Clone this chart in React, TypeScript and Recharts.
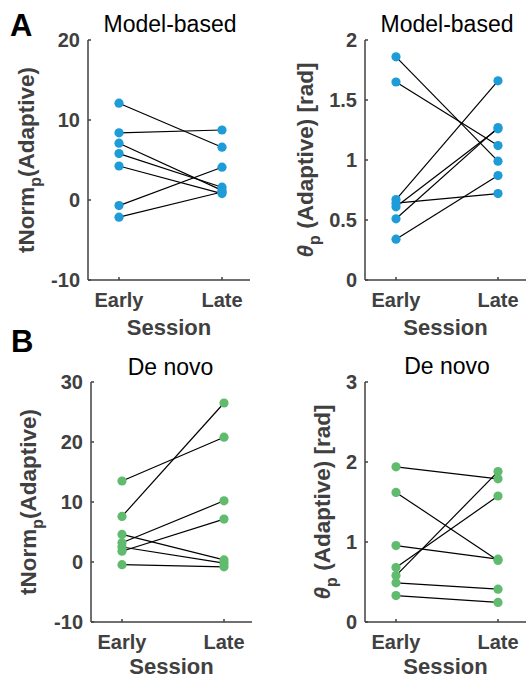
import React from 'react';
import { LineChart, Line, XAxis, YAxis } from 'recharts';

// ---------- data ----------
const sessions = ['Early', 'Late'];

// A: Model-based
const mbTnormEarly = [12.1, 8.4, 7.1, 5.8, 4.25, -0.7, -2.15];
const mbTnormLate = [6.6, 8.75, 1.2, 1.6, 0.8, 4.1, 1.0];
const mbThetaEarly = [1.86, 1.65, 0.67, 0.64, 0.61, 0.51, 0.34];
const mbThetaLate = [0.99, 1.12, 1.66, 0.72, 1.26, 1.27, 0.87];

// B: De novo
const dnTnormEarly = [13.5, 7.6, 4.6, 3.2, 2.5, 1.8, -0.45];
const dnTnormLate = [20.8, 26.5, 0.35, 10.2, -0.2, 7.15, -0.8];
const dnThetaEarly = [1.94, 1.62, 0.955, 0.68, 0.58, 0.49, 0.33];
const dnThetaLate = [1.79, 0.77, 0.785, 1.575, 1.88, 0.41, 0.245];

const tnormTicksA = [-10, 0, 10, 20];
const thetaTicksA = [0, 0.5, 1, 1.5, 2];
const tnormTicksB = [-10, 0, 10, 20, 30];
const thetaTicksB = [0, 1, 2, 3];

const panelTitles = ['Model-based', 'Model-based', 'De novo', 'De novo'];
const panelLetters = ['A', 'B'];
const xLabel = 'Session';

// ---------- styles ----------
const FONT = '"Liberation Sans", Arial, Helvetica, sans-serif';
const AXIS = '#404040';
const BLUE = '#1e9cd7';
const GREEN = '#60bb6e';

function buildRows(early: number[], late: number[]) {
  return sessions.map((s, i) => {
    const row: Record<string, any> = { session: s };
    (i === 0 ? early : late).forEach((v, k) => {
      row['s' + (k + 1)] = v;
    });
    return row;
  });
}

type PanelProps = {
  left: number;
  top: number;
  width: number;
  height: number;
  yAxisWidth: number;
  marginRight: number;
  xAxisHeight: number;
  xLabelOffset: number;
  early: number[];
  late: number[];
  ticks: number[];
  color: string;
  kind: 'tnorm' | 'theta';
  labelBaseline: number;
};

function YLabel(props: any) {
  const vb = props.viewBox || {};
  const { kind, baseline } = props;
  const x = (vb.x ?? 0) + baseline;
  const y = (vb.y ?? 0) + (vb.height ?? 0) / 2;
  return (
    <text
      x={x}
      y={y}
      transform={`rotate(-90 ${x} ${y})`}
      textAnchor="middle"
      fontFamily={FONT}
      fontWeight="bold"
      fontSize={22.5}
      fill={AXIS}
    >
      {kind === 'tnorm' ? (
        <>
          <tspan>tNorm</tspan>
          <tspan fontSize={16} dy={7}>p</tspan>
          <tspan dy={-7}>(Adaptive)</tspan>
        </>
      ) : (
        <>
          <tspan fontStyle="italic">θ</tspan>
          <tspan fontSize={16} dy={7}>p</tspan>
          <tspan dy={-7}>{' (Adaptive) [rad]'}</tspan>
        </>
      )}
    </text>
  );
}

function XLabel(props: any) {
  const vb = props.viewBox || {};
  const x = (vb.x ?? 0) + (vb.width ?? 0) / 2;
  const y = (vb.y ?? 0) + props.offsetY;
  return (
    <text x={x} y={y} textAnchor="middle" fontFamily={FONT} fontWeight="bold" fontSize={22} fill={AXIS}>
      {xLabel}
    </text>
  );
}

const tickStyle = { fill: AXIS, fontSize: 20, fontWeight: 'bold', fontFamily: FONT };

function Panel(p: PanelProps) {
  const data = buildRows(p.early, p.late);
  const keys = p.early.map((_, k) => 's' + (k + 1));
  const domain: [number, number] = [p.ticks[0], p.ticks[p.ticks.length - 1]];
  return (
    <div style={{ position: 'absolute', left: p.left, top: p.top, width: p.width, height: p.height }}>
      <LineChart
        width={p.width}
        height={p.height}
        data={data}
        margin={{ top: 40, right: p.marginRight, bottom: 0, left: 0 }}
      >
        <XAxis
          dataKey="session"
          type="category"
          interval={0}
          padding={{ left: 31, right: 28 }}
          height={p.xAxisHeight}
          tickSize={-3}
          tickMargin={16}
          axisLine={{ stroke: AXIS, strokeWidth: 1.5 }}
          tickLine={{ stroke: AXIS, strokeWidth: 1.5 }}
          tick={tickStyle}
          label={(lp: any) => <XLabel {...lp} offsetY={p.xLabelOffset} />}
        />
        <YAxis
          type="number"
          domain={domain}
          ticks={p.ticks}
          interval={0}
          width={p.yAxisWidth}
          tickSize={-3}
          tickMargin={11}
          axisLine={{ stroke: AXIS, strokeWidth: 1.5 }}
          tickLine={{ stroke: AXIS, strokeWidth: 1.5 }}
          tick={tickStyle}
          label={(lp: any) => <YLabel {...lp} kind={p.kind} baseline={p.labelBaseline} />}
        />
        {keys.map((k) => (
          <Line
            key={k}
            dataKey={k}
            type="linear"
            stroke="#000000"
            strokeWidth={1.2}
            dot={{ r: 4.6, fill: p.color, stroke: p.color, strokeWidth: 0 }}
            activeDot={false}
            isAnimationActive={false}
          />
        ))}
      </LineChart>
    </div>
  );
}

export default function App() {
  return (
    <div
      style={{
        position: 'absolute',
        left: 0,
        top: 0,
        width: 526,
        height: 678,
        background: '#ffffff',
        overflow: 'hidden',
      }}
    >
      <Panel
        left={0}
        top={0}
        width={263}
        height={340}
        yAxisWidth={88}
        marginRight={13}
        xAxisHeight={60}
        xLabelOffset={55}
        early={mbTnormEarly}
        late={mbTnormLate}
        ticks={tnormTicksA}
        color={BLUE}
        kind="tnorm"
        labelBaseline={33.5}
      />
      <Panel
        left={263}
        top={0}
        width={263}
        height={340}
        yAxisWidth={102}
        marginRight={0}
        xAxisHeight={60}
        xLabelOffset={55}
        early={mbThetaEarly}
        late={mbThetaLate}
        ticks={thetaTicksA}
        color={BLUE}
        kind="theta"
        labelBaseline={50}
      />
      <Panel
        left={0}
        top={342}
        width={263}
        height={336}
        yAxisWidth={91}
        marginRight={11}
        xAxisHeight={56}
        xLabelOffset={52}
        early={dnTnormEarly}
        late={dnTnormLate}
        ticks={tnormTicksB}
        color={GREEN}
        kind="tnorm"
        labelBaseline={36}
      />
      <Panel
        left={263}
        top={342}
        width={263}
        height={336}
        yAxisWidth={102}
        marginRight={0}
        xAxisHeight={56}
        xLabelOffset={52}
        early={dnThetaEarly}
        late={dnThetaLate}
        ticks={thetaTicksB}
        color={GREEN}
        kind="theta"
        labelBaseline={67}
      />
      <svg
        width={526}
        height={678}
        style={{ position: 'absolute', left: 0, top: 0, pointerEvents: 'none' }}
      >
        <text x={10} y={36} fontFamily={FONT} fontWeight="bold" fontSize={31} fill="#000">
          {panelLetters[0]}
        </text>
        <text x={11} y={352} fontFamily={FONT} fontWeight="bold" fontSize={31} fill="#000">
          {panelLetters[1]}
        </text>
        <text x={170} y={32} textAnchor="middle" fontFamily={FONT} fontSize={23} fill="#000">
          {panelTitles[0]}
        </text>
        <text x={447} y={32} textAnchor="middle" fontFamily={FONT} fontSize={23} fill="#000">
          {panelTitles[1]}
        </text>
        <text x={170.5} y={375} textAnchor="middle" fontFamily={FONT} fontSize={23} fill="#000">
          {panelTitles[2]}
        </text>
        <text x={447} y={374} textAnchor="middle" fontFamily={FONT} fontSize={23} fill="#000">
          {panelTitles[3]}
        </text>
      </svg>
    </div>
  );
}
